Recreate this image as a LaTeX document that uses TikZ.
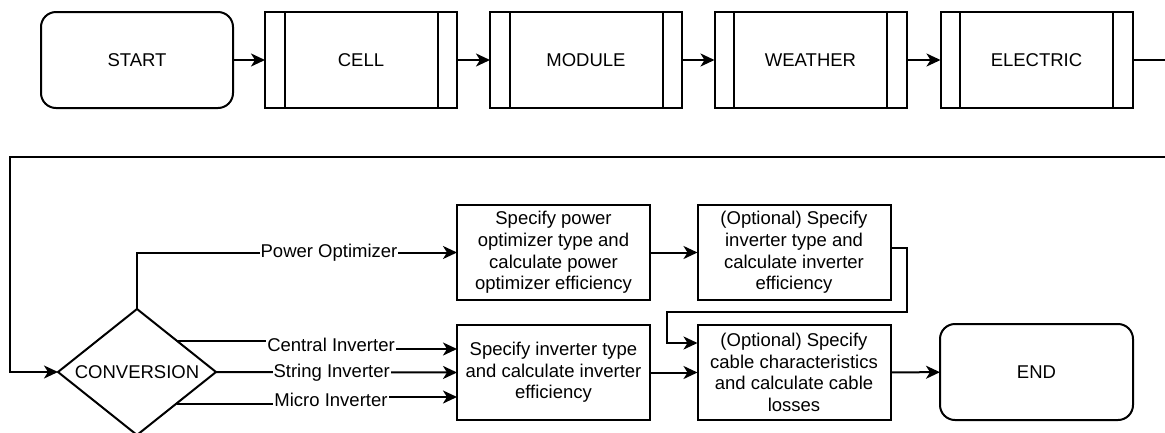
\documentclass[tikz,border=0pt]{standalone}
\usepackage{fontspec}
\setmainfont{Liberation Sans}
\usetikzlibrary{shapes.geometric}
\usetikzlibrary{arrows.meta}
\usetikzlibrary{calc}

\begin{document}
\begin{tikzpicture}[x=1pt, y=-1pt, line width=2pt,
    every node/.style={font=\fontsize{18.5}{21.7}\selectfont, inner sep=0pt, outer sep=0pt},
    terminal/.style={draw, fill=white, rounded corners=15pt, minimum width=192pt, minimum height=96pt},
    process/.style={draw, fill=white, minimum width=192pt, minimum height=96pt},
    stepbox/.style={draw, fill=white, align=center, minimum width=193pt, minimum height=95pt},
    decision/.style={draw, fill=white, diamond, minimum width=158pt, minimum height=126pt},
    lbl/.style={fill=white, inner sep=1pt},
    arr/.style={-{Stealth[length=14pt, width=13pt, inset=4pt]}}]

            \clip (0,0) rectangle (1165,432);

            % Top row
            \node[terminal] (start) at (137,60) {START};
            \node[process] (cell) at (361,60) {CELL};
            \node[process] (module) at (586,60) {MODULE};
            \node[process] (weather) at (810.5,60) {WEATHER};
            \node[process] (electric) at (1036.5,60) {ELECTRIC};

            % Side bars of the process boxes
            \foreach \n in {cell, module, weather, electric} {
                \draw ([xshift=19.5pt]\n.north west) -- ([xshift=19.5pt]\n.south west);
                \draw ([xshift=-19.5pt]\n.north east) -- ([xshift=-19.5pt]\n.south east);
            }

            % Decision
            \node[decision] (conversion) at (137,372) {\makebox[0pt]{CONVERSION}};

            % Steps
            \node[stepbox] (po) at (553.5,252.5) {Specify power\\optimizer type and\\calculate power\\optimizer efficiency};
            \node[stepbox] (optinv) at (794,252.5) {(Optional) Specify\\inverter type and\\calculate inverter\\efficiency};
            \node[stepbox] (inv) at (553.5,372.5) {Specify inverter type\\and calculate inverter\\efficiency};
            \node[stepbox] (cable) at (794,372.5) {(Optional) Specify\\cable characteristics\\and calculate cable\\losses};
            \node[terminal, minimum width=193pt] (end) at (1036.5,372) {END};

            % Top row arrows
            \draw[arr] (start) -- (cell);
            \draw[arr] (cell) -- (module);
            \draw[arr] (module) -- (weather);
            \draw[arr] (weather) -- (electric);

            % Loop back to the decision
            \coordinate (offr) at (1185,60);
            \coordinate (loopl) at (10,157);
            \draw[arr] (electric.east) -- (offr) |- (loopl) |- (conversion.west);

            % Branches
            \draw[arr] (conversion.north) |- node[lbl, pos=0.8] {Power Optimizer} (po.west);
            \draw[arr] (conversion.north east) -- (331,340.5) -- (331,349) node[lbl, midway] {Central Inverter} -- ([yshift=23.5pt]inv.west);
            \draw[arr] (conversion.east) -- node[lbl, pos=0.48] {String Inverter} (inv.west);
            \draw[arr] (conversion.south east) -- (331,403.5) -- (331,397) node[lbl, midway] {Micro Inverter} -- ([yshift=-24.5pt]inv.west);

            % To the cable step
            \draw[arr] (po) -- (optinv);
            \draw[arr] ([yshift=5pt]optinv.east) -- ++(16,0) |- (666.5,312) |- ([yshift=29.5pt]cable.west);
            \draw[arr] (inv) -- (cable);
            \draw[arr] (cable) -- (end);

\end{tikzpicture}
\end{document}
